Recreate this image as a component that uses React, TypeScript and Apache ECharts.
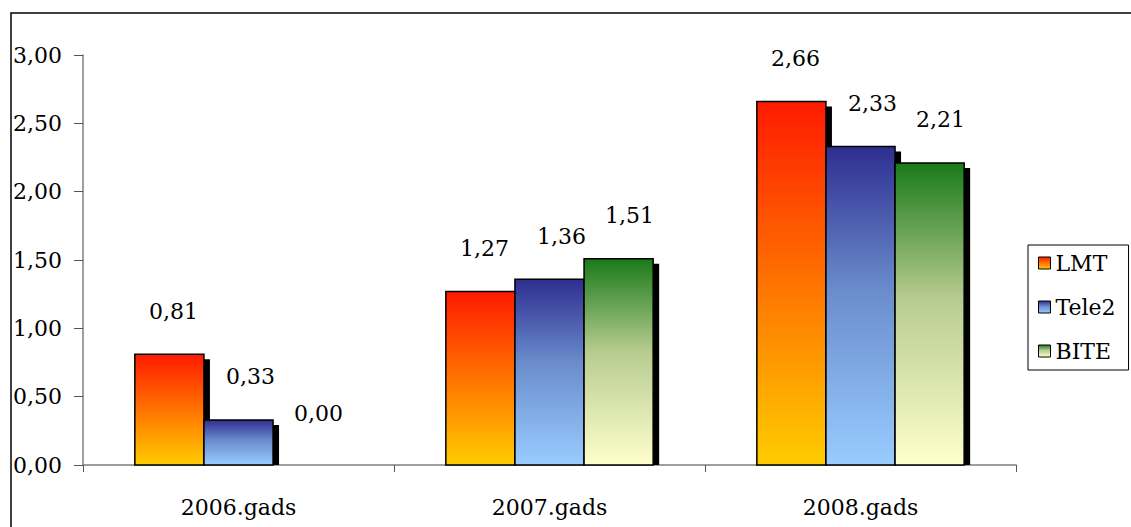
import React, { useEffect, useRef } from "react";
import * as echarts from "echarts";

const categories = ["2006.gads", "2007.gads", "2008.gads"];
const seriesNames = ["LMT", "Tele2", "BITE"];
const lmtValues = [0.81, 1.27, 2.66];
const tele2Values = [0.33, 1.36, 2.33];
const biteValues = [0.0, 1.51, 2.21];
const yTicks = [0, 0.5, 1, 1.5, 2, 2.5, 3];

const FONT = "DejaVu Serif";
const FS = 22;

const grad = (top: string, mid: string, bottom: string) =>
  new echarts.graphic.LinearGradient(0, 0, 0, 1, [
    { offset: 0, color: top },
    { offset: 0.45, color: mid },
    { offset: 1, color: bottom },
  ]);

const gradients = [
  () => grad("#ff1a00", "#ff6a00", "#ffcc00"),
  () => grad("#2e2e90", "#6a8ccc", "#99ccff"),
  () => grad("#1a7a1a", "#b7cc90", "#ffffcc"),
];
const labelDx = [4, 12, 11];

const fmt = (v: number) => v.toFixed(2).replace(".", ",");

export default function App() {
  const ref = useRef<HTMLDivElement>(null);
  useEffect(() => {
    if (!ref.current) return;
    const chart = echarts.init(ref.current, undefined, { renderer: "svg" });
    const allValues = [lmtValues, tele2Values, biteValues];
    const series = allValues.map((vals, s) => ({
      type: "custom",
      name: seriesNames[s],
      data: vals.map((v, i) => [i, v]),
      itemStyle: { color: gradients[s](), borderColor: "#000", borderWidth: 1 },
      renderItem: (params: any, api: any) => {
        const cat = api.value(0);
        const val = api.value(1);
        const base = api.coord([cat, 0]);
        const top = api.coord([cat, val]);
        const band = api.size([1, 0])[0];
        const bw = band * 0.2222;
        const x = base[0] - 1.5 * bw + s * bw;
        const y = top[1];
        const h = base[1] - top[1];
        const children: any[] = [];
        if (h > 0) {
          children.push({
            type: "rect",
            shape: { x: x + 6, y: y + 5, width: bw, height: Math.max(0, h - 5) },
            style: { fill: "#000" },
          });
          children.push({
            type: "rect",
            shape: { x, y, width: bw, height: h },
            style: { fill: gradients[s](), stroke: "#000", lineWidth: 1.5 },
          });
        }
        children.push({
          type: "text",
          style: {
            text: fmt(val),
            x: x + bw / 2 + labelDx[s],
            y: y - (h > 0 ? 43 : 52),
            align: "center",
            verticalAlign: "middle",
            fontFamily: FONT,
            fontSize: FS,
            fill: "#000",
          },
        });
        return { type: "group", children };
      },
    }));

    chart.setOption({
      animation: false,
      backgroundColor: "#fff",
      textStyle: { fontFamily: FONT },
      grid: { left: 83, top: 55, right: 115, bottom: 62, containLabel: false },
      graphic: [
        {
          type: "rect",
          shape: { x: 11, y: 13, width: 1300, height: 700 },
          style: { fill: "none", stroke: "#000", lineWidth: 1.5 },
          z: 100,
          silent: true,
        },
      ],
      legend: {
        orient: "vertical",
        left: 1028,
        top: 245,
        data: seriesNames,
        icon: "rect",
        itemWidth: 12,
        itemHeight: 12,
        itemGap: 22,
        padding: [7, 13, 8, 10],
        borderColor: "#000",
        borderWidth: 1,
        borderRadius: 0,
        itemStyle: { borderColor: "#000", borderWidth: 1 },
        textStyle: { fontFamily: FONT, fontSize: FS, color: "#000" },
      },
      xAxis: {
        type: "category",
        data: categories,
        axisLine: { lineStyle: { color: "#7f7f7f", width: 1.5 } },
        axisTick: { show: true, alignWithLabel: false, length: 7, lineStyle: { color: "#555" } },
        axisLabel: { fontFamily: FONT, fontSize: FS, color: "#000", margin: 31 },
      },
      yAxis: {
        type: "value",
        min: yTicks[0],
        max: yTicks[yTicks.length - 1],
        interval: 0.5,
        splitLine: { show: false },
        axisLine: { show: true, lineStyle: { color: "#7f7f7f", width: 1.5 } },
        axisTick: { show: true, length: 9, lineStyle: { color: "#555" } },
        axisLabel: { fontFamily: FONT, fontSize: FS, color: "#000", margin: 21, formatter: (v: number) => fmt(v) },
      },
      series,
    });
    return () => chart.dispose();
  }, []);
  return <div ref={ref} style={{ position: "fixed", left: 0, top: 0, width: 1131, height: 527 }} />;
}
